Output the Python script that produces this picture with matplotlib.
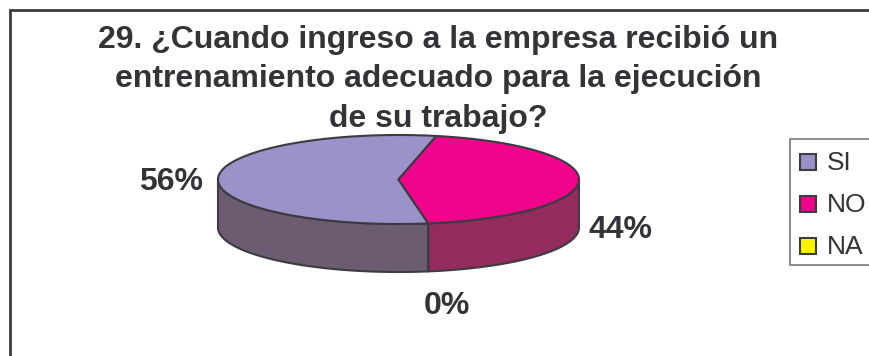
import numpy as np
import matplotlib
matplotlib.use("Agg")
import matplotlib.pyplot as plt
from matplotlib.patches import Polygon, Rectangle

plt.rcParams['font.family'] = ['Liberation Sans', 'DejaVu Sans']

categories = ["SI", "NO", "NA"]
values = [56, 44, 0]
labels = ["56%", "44%", "0%"]
top_colors = ["#9A92C8", "#F0048C", "#FFF200"]
side_colors = ["#6B5C72", "#922B5E", "#A09000"]
title = ("29. ¿Cuando ingreso a la empresa recibió un\n"
         "entrenamiento adecuado para la ejecución\n"
         "de su trabajo?")

INK = "#333338"
EDGE = "#3C3C40"
CX, CY, RX, RY, DEPTH = 398.5, 179.5, 180.5, 44.5, 48.0
START = 170.5  # clockwise from twelve o'clock, degrees

fig = plt.figure(figsize=(8.69, 3.56), dpi=100)
ax = fig.add_axes([0, 0, 1, 1])
ax.set_xlim(0, 869)
ax.set_ylim(356, 0)
ax.axis("off")

# Chart frame, running off the right and bottom of the canvas
ax.plot([10, 10, 869], [356, 9.5, 9.5], color=EDGE, lw=2.0, solid_joinstyle="miter")


def rim(a0, a1, n=200):
    t = np.radians(np.linspace(a0, a1, n))
    return CX + RX * np.sin(t), CY - RY * np.cos(t)


# Slice angles come straight from the values
total = sum(values)
spans = [v / total * 360 for v in values]
starts = START + np.concatenate([[0], np.cumsum(spans)[:-1]])

# Side walls: only the part of the rim on the front half (90..270 degrees) shows
for a0, span, c in zip(starts, spans, side_colors):
    for shift in (0, 360, -360):
        lo, hi = max(a0 + shift, 90), min(a0 + span + shift, 270)
        if hi > lo:
            x, y = rim(lo, hi)
            pts = np.r_[np.c_[x, y], np.c_[x[::-1], y[::-1] + DEPTH]]
            ax.add_patch(Polygon(pts, closed=True, fc=c, ec=EDGE, lw=1.5, joinstyle="round"))

# Top faces
for a0, span, c in zip(starts, spans, top_colors):
    if span > 0:
        x, y = rim(a0, a0 + span)
        pts = np.r_[[[CX, CY]], np.c_[x, y]]
        ax.add_patch(Polygon(pts, closed=True, fc=c, ec=EDGE, lw=1.5, joinstyle="round"))

ax.text(438, 79.5, title, ha="center", va="center", fontsize=23, fontweight="bold",
        color=INK, linespacing=1.416)

# Percentage labels
label_xy = [(171, 182), (620.5, 230), (447, 306)]
for (lx, ly), s in zip(label_xy, labels):
    ax.text(lx, ly, s, ha="center", va="center", fontsize=23, fontweight="bold", color=INK)

# Legend
ax.add_patch(Rectangle((790, 139), 90, 126, fc="white", ec="#77777A", lw=1.2, clip_on=True))
for i, (name, c) in enumerate(zip(categories, top_colors)):
    y = 162 + 42 * i
    ax.add_patch(Rectangle((800, y - 8), 16, 16, fc=c, ec=EDGE, lw=1.5))
    ax.text(827, y + 0.5, name, ha="left", va="center", fontsize=19, color=INK)

fig.savefig("out.png", dpi=100)
